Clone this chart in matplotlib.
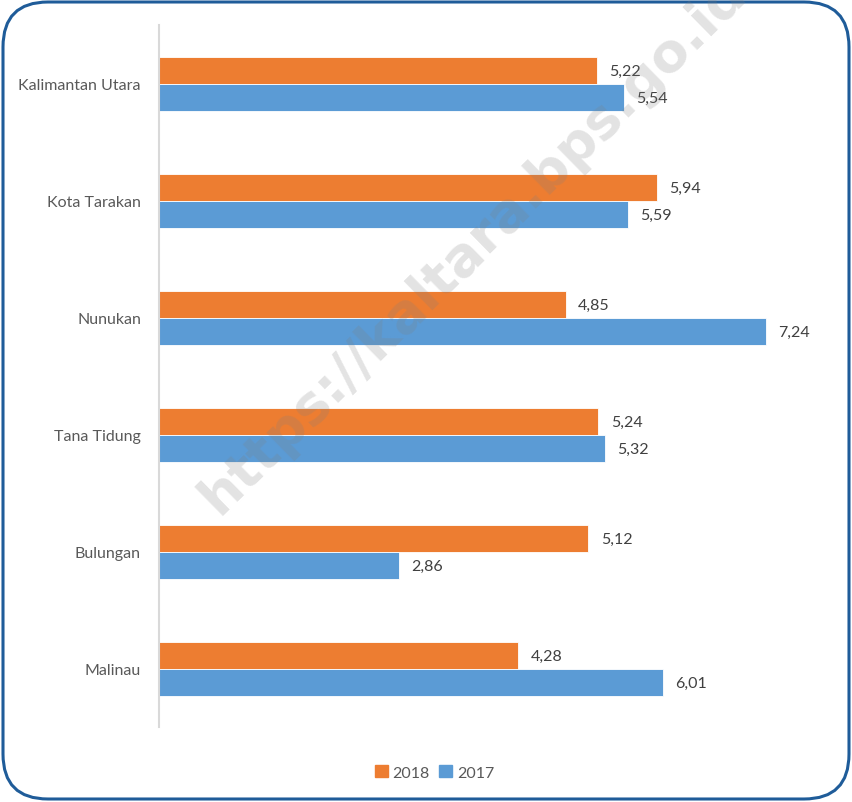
import matplotlib.pyplot as plt
import numpy as np
from matplotlib.patches import FancyBboxPatch, Patch

plt.rcParams['font.family'] = ['Lato', 'DejaVu Sans']

regions = ['Kalimantan Utara', 'Kota Tarakan', 'Nunukan', 'Tana Tidung', 'Bulungan', 'Malinau']
val_2018 = [5.22, 5.94, 4.85, 5.24, 5.12, 4.28]
val_2017 = [5.54, 5.59, 7.24, 5.32, 2.86, 6.01]

orange = '#ed7d31'
blue = '#5b9bd5'

fig = plt.figure(figsize=(8.52, 8.03), dpi=100)
ax = fig.add_axes([0.1866, 0.0928, 0.974 - 0.1866, 0.967 - 0.0928])

y = np.arange(len(regions))
h = 0.23
b18 = ax.barh(y - h / 2, val_2018, height=h, color=orange, edgecolor='white', linewidth=0.6)
b17 = ax.barh(y + h / 2, val_2017, height=h, color=blue, edgecolor='white', linewidth=0.6)

fmt = lambda v: f'{v:.2f}'.replace('.', ',')
for bars, vals in ((b18, val_2018), (b17, val_2017)):
  for bar, v in zip(bars, vals):
    ax.annotate(fmt(v), (v, bar.get_y() + bar.get_height() / 2),
                xytext=(9, 0), textcoords='offset points',
                va='center', ha='left', fontsize=11.5, color='#404040')

ax.set_xlim(0, 8)
ax.set_ylim(len(regions) - 0.5, -0.5)
ax.set_yticks(y)
ax.set_yticklabels(regions, fontsize=11.5, color='#595959')
ax.tick_params(axis='y', length=0, pad=13)
ax.set_xticks([])
for s in ('top', 'right', 'bottom'):
  ax.spines[s].set_visible(False)
ax.spines['left'].set_color('#d9d9d9')
ax.spines['left'].set_linewidth(1.5)

fig.legend(handles=[Patch(color=orange, label='2018'), Patch(color=blue, label='2017')],
           loc='center', bbox_to_anchor=(0.51, 0.037), ncol=2, frameon=False,
           handlelength=0.8, handleheight=0.8, handletextpad=0.3, columnspacing=0.6,
           fontsize=11.5, labelcolor='#595959')

# watermark
fig.text(0.555, 0.695, 'https://kaltara.bps.go.id', rotation=44.5, ha='center', va='center',
         fontsize=39, fontweight='bold', color='#808080', alpha=0.22,
         family='DejaVu Sans', zorder=10)

# rounded frame
frame = FancyBboxPatch((0.03, 0.03), 8.46, 7.97, boxstyle='round,pad=0,rounding_size=0.45',
                       transform=fig.dpi_scale_trans, facecolor='none',
                       edgecolor='#1f5c99', linewidth=2.2)
fig.patches.append(frame)

fig.savefig('out.png', dpi=100)
